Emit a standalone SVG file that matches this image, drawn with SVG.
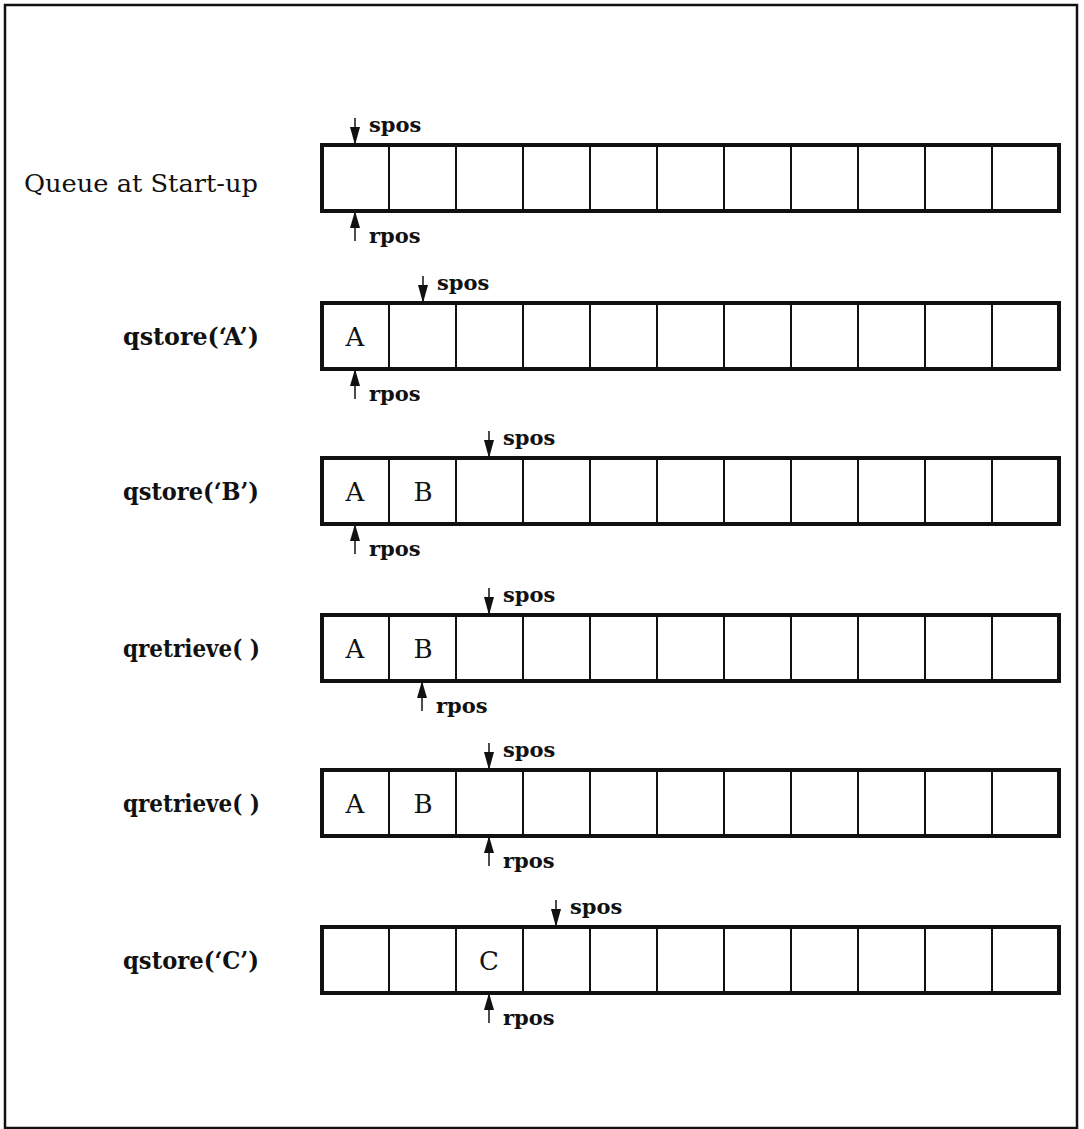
<svg xmlns="http://www.w3.org/2000/svg" width="1084" height="1129" viewBox="0 0 1084 1129">
<style>
.frame{fill:none;stroke:#111;stroke-width:2.5}
.box{fill:#fff;stroke:#111;stroke-width:4}
.div{stroke:#111;stroke-width:2}
.lbl{font-family:"DejaVu Serif","Liberation Serif",serif;font-size:24px;fill:#111}
.b{font-weight:bold}
.ptr{font-family:"DejaVu Serif","Liberation Serif",serif;font-size:21px;font-weight:bold;fill:#111}
.cell{font-family:"DejaVu Serif","Liberation Serif",serif;font-size:26px;fill:#111;text-anchor:middle}
.shaft{stroke:#111;stroke-width:1.5}
.head{fill:#111}
</style>
<defs>
<g id="cells">
<rect class="box" x="322" y="0" width="737" height="66"/>
<path class="div" d="M389 0V66M456 0V66M523 0V66M590 0V66M657 0V66M724 0V66M791 0V66M858 0V66M925 0V66M992 0V66"/>
</g>
<g id="down"><line class="shaft" x1="0" y1="-27" x2="0" y2="-2"/><polygon class="head" points="-5,-18 5,-18 0,0"/></g>
<g id="up"><line class="shaft" x1="0" y1="2" x2="0" y2="30"/><polygon class="head" points="-5,17 5,17 0,0"/></g>
</defs>
<rect class="frame" x="5" y="5" width="1072" height="1123"/>

<g id="row1">
<text class="lbl" x="24" y="192" textLength="234" lengthAdjust="spacingAndGlyphs">Queue at Start-up</text>
<use href="#cells" y="145"/>
</g>
<g id="row2">
<text class="lbl b" x="123" y="345" textLength="136" lengthAdjust="spacingAndGlyphs">qstore(‘A’)</text>
<use href="#cells" y="303"/>
<text class="cell" x="355" y="346">A</text>
</g>
<g id="row3">
<text class="lbl b" x="123" y="500" textLength="136" lengthAdjust="spacingAndGlyphs">qstore(‘B’)</text>
<use href="#cells" y="458"/>
<text class="cell" x="355" y="501">A</text>
<text class="cell" x="423" y="501">B</text>
</g>
<g id="row4">
<text class="lbl b" x="123" y="657" textLength="137" lengthAdjust="spacingAndGlyphs">qretrieve( )</text>
<use href="#cells" y="615"/>
<text class="cell" x="355" y="658">A</text>
<text class="cell" x="423" y="658">B</text>
</g>
<g id="row5">
<text class="lbl b" x="123" y="812" textLength="137" lengthAdjust="spacingAndGlyphs">qretrieve( )</text>
<use href="#cells" y="770"/>
<text class="cell" x="355" y="813">A</text>
<text class="cell" x="423" y="813">B</text>
</g>
<g id="row6">
<text class="lbl b" x="123" y="969" textLength="136" lengthAdjust="spacingAndGlyphs">qstore(‘C’)</text>
<use href="#cells" y="927"/>
<text class="cell" x="489" y="970">C</text>
</g>

<g id="connectors">
<use href="#down" x="355" y="145"/><text class="ptr" x="369" y="132">spos</text>
<use href="#up" x="355" y="211"/><text class="ptr" x="369" y="243">rpos</text>

<use href="#down" x="423" y="303"/><text class="ptr" x="437" y="290">spos</text>
<use href="#up" x="355" y="369"/><text class="ptr" x="369" y="401">rpos</text>

<use href="#down" x="489" y="458"/><text class="ptr" x="503" y="445">spos</text>
<use href="#up" x="355" y="524"/><text class="ptr" x="369" y="556">rpos</text>

<use href="#down" x="489" y="615"/><text class="ptr" x="503" y="602">spos</text>
<use href="#up" x="422" y="681"/><text class="ptr" x="436" y="713">rpos</text>

<use href="#down" x="489" y="770"/><text class="ptr" x="503" y="757">spos</text>
<use href="#up" x="489" y="836"/><text class="ptr" x="503" y="868">rpos</text>

<use href="#down" x="556" y="927"/><text class="ptr" x="570" y="914">spos</text>
<use href="#up" x="489" y="993"/><text class="ptr" x="503" y="1025">rpos</text>
</g>
</svg>
